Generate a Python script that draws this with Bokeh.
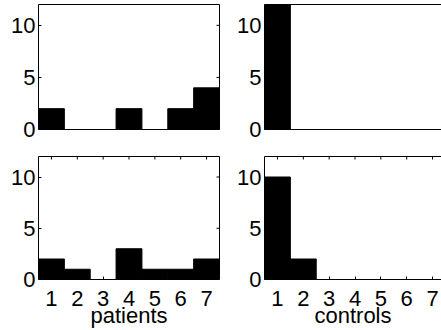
import math
from bokeh.plotting import figure
from bokeh.models import Range1d, LinearAxis, FixedTicker
from bokeh.layouts import column, row
from bokeh.embed import file_html
from bokeh.resources import INLINE

categories = [1, 2, 3, 4, 5, 6, 7]
patients_top = [2, 0, 0, 2, 0, 2, 4]
controls_top = [12, 0, 0, 0, 0, 0, 0]
patients_bottom = [2, 1, 0, 3, 1, 1, 2]
controls_bottom = [10, 2, 0, 0, 0, 0, 0]
y_ticks = [0, 5, 10]
x_labels = ["patients", "controls"]

FONT = "Liberation Sans"
FS = "22px"
Y_MAX = 12


def style_axis(ax, ticks):
    ax.ticker = FixedTicker(ticks=ticks)
    ax.axis_line_color = "black"
    ax.axis_line_width = 1
    ax.major_tick_line_color = "black"
    ax.major_tick_in = 3
    ax.major_tick_out = 0
    ax.minor_tick_line_color = None
    ax.major_label_text_font = FONT
    ax.major_label_text_font_size = FS
    ax.major_label_text_color = "black"


def panel(values, left_panel, bottom_row, xlabel=None):
    if left_panel:
        width = 220
        xr = Range1d(0.5, 7.5)
        mbl, mbr = 38, 1
    else:
        width = 221
        xr = Range1d(0.5, 0.5 + 177 * 7 / 181)
        mbl, mbr = 44, 0
    if bottom_row:
        height = 176
        mbt, mbb = 2, 50
    else:
        height = 154
        mbt, mbb = 4, 25
    p = figure(width=width, height=height, x_range=xr, y_range=Range1d(0, Y_MAX),
               output_backend="svg", toolbar_location=None,
               min_border_left=mbl, min_border_right=mbr,
               min_border_top=mbt, min_border_bottom=mbb,
               x_axis_location=None, y_axis_location=None)
    p.grid.visible = False
    p.outline_line_color = None
    p.background_fill_color = "white"
    p.border_fill_color = "white"

    p.vbar(x=categories, top=values, bottom=0, width=1,
           fill_color="black", line_color="black", line_width=1)

    yl = LinearAxis()
    style_axis(yl, y_ticks)
    yl.major_label_standoff = 3
    p.add_layout(yl, "left")

    if left_panel:
        yr = LinearAxis()
        style_axis(yr, [])
        p.add_layout(yr, "right")
        # mirrored y ticks on the right border, pointing inward
        p.ray(x=xr.end, y=y_ticks, length=3, length_units="screen",
              angle=math.pi, line_color="black", line_width=1)

    xb = LinearAxis()
    if bottom_row:
        style_axis(xb, categories)
        xb.major_label_standoff = 11
        xb.axis_label = xlabel
        xb.axis_label_text_font = FONT
        xb.axis_label_text_font_size = FS
        xb.axis_label_text_font_style = "normal"
        xb.axis_label_text_color = "black"
        xb.axis_label_standoff = -6
        # mirrored x ticks on the top border, pointing inward
        p.ray(x=categories, y=Y_MAX, length=3, length_units="screen",
              angle=-math.pi / 2, line_color="black", line_width=1)
    else:
        style_axis(xb, [])
    p.add_layout(xb, "below")

    xa = LinearAxis()
    style_axis(xa, [])
    p.add_layout(xa, "above")
    return p


p1 = panel(patients_top, True, False)
p2 = panel(controls_top, False, False)
p3 = panel(patients_bottom, True, True, x_labels[0])
p4 = panel(controls_bottom, False, True, x_labels[1])

layout = column(row(p1, p2), row(p3, p4))
open("out.html", "w").write(file_html(layout, INLINE))
